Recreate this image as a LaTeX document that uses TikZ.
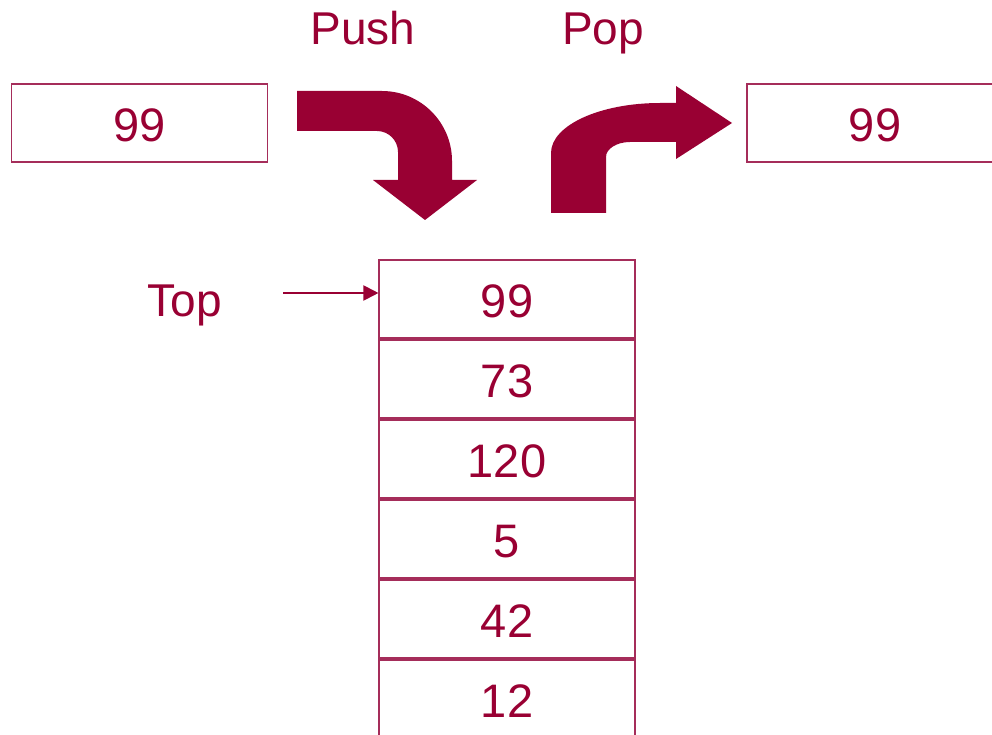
\documentclass[tikz,border=0pt]{standalone}
\usepackage{fontspec}
\setmainfont{Liberation Sans}
\usetikzlibrary{arrows.meta}
\definecolor{mar}{RGB}{153,0,51}
\definecolor{boxc}{RGB}{165,45,90}
\tikzset{
  cell/.style={draw=boxc, line width=1.1pt, minimum width=256pt, minimum height=78pt, inner sep=0pt, text=mar, font=\fontsize{47}{50}\selectfont, text height=37pt, text depth=0pt},
  lbl/.style={text=mar, font=\fontsize{46}{50}\selectfont, inner sep=0pt, anchor=base},
  bigarrow/.style={fill=mar, draw=none},
  ptr/.style={draw=mar, line width=2pt, -{Triangle[length=15pt,width=15pt]}}
}
\begin{document}
\begin{tikzpicture}[x=1pt,y=-1pt]
\useasboundingbox (0,0) rectangle (992,735);
\clip (0,0) rectangle (992,735);
% labels
\node[lbl] (push) at (363,45) {Push};
\node[lbl] (pop) at (603,45) {Pop};
\node[lbl] (toplbl) at (185,316) {Top};
% side boxes
\node[cell] (inbox) at (139.5,123) {99};
\node[cell, minimum width=270pt] (outbox) at (882,123) {};
\node[text=mar, font=\fontsize{47}{50}\selectfont, inner sep=0pt, anchor=base] (outval) at (875,142) {99};
% stack
\node[cell] (s1) at (507,299) {99};
\node[cell] (s2) at (507,379) {73};
\node[cell] (s3) at (507,459) {120};
\node[cell] (s4) at (507,539) {5};
\node[cell] (s5) at (507,619) {42};
\node[cell] (s6) at (507,699) {12};
% top pointer
\coordinate (tp) at (283,293);
\draw[ptr] (tp) -- (tp -| s1.west);
% push arrow
\path[bigarrow] (297,91) -- (382,91)
  .. controls (420.6,91) and (452,122.4) .. (452,161)
  -- (452,180) -- (477,180) -- (425,220) -- (373,180) -- (398,180) -- (398,152)
  .. controls (398,140.4) and (388.6,131) .. (377,131)
  -- (297,131) -- cycle;
% pop arrow
\path[bigarrow] (551,213) -- (551,153)
  .. controls (551,125.4) and (599.8,103) .. (660,103)
  -- (676,103) -- (676,86) -- (732,123) -- (676,159) -- (676,142) -- (630,142)
  .. controls (616.8,142) and (606,148.7) .. (606,157)
  -- (606,213) -- cycle;
\end{tikzpicture}
\end{document}
